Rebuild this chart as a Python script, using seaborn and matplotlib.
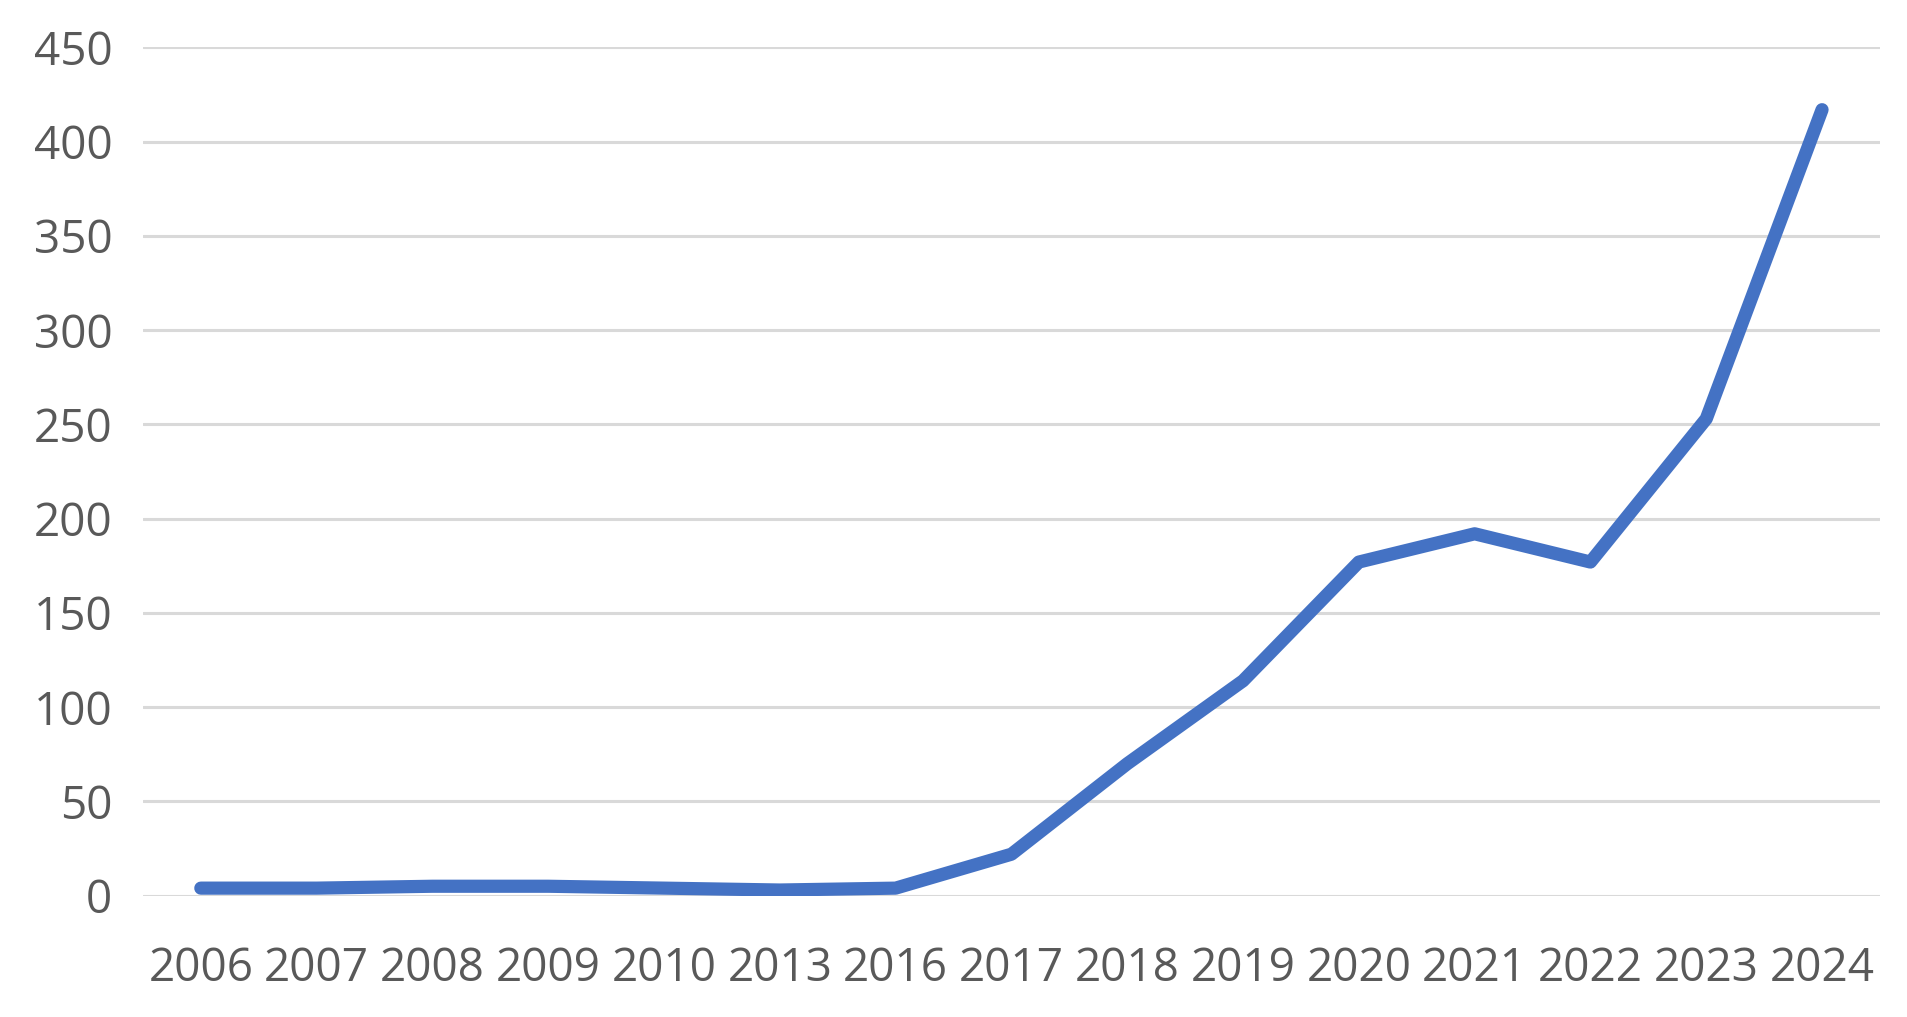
import matplotlib
matplotlib.use('Agg')
import matplotlib.pyplot as plt
import seaborn as sns
import pandas as pd

# data
years = ['2006', '2007', '2008', '2009', '2010', '2013', '2016', '2017',
         '2018', '2019', '2020', '2021', '2022', '2023', '2024']
counts = [4, 4, 5, 5, 4, 3, 4, 22, 70, 114, 177, 192, 177, 253, 417]
y_ticks = [0, 50, 100, 150, 200, 250, 300, 350, 400, 450]

df = pd.DataFrame({'year': years, 'count': counts})

sns.set_style('white')
plt.rcParams['font.family'] = ['Open Sans', 'DejaVu Sans']

fig = plt.figure(figsize=(19.08, 10.17), dpi=100)
ax = fig.add_axes([0.0749, 0.1193, 0.9104, 0.834])

sns.lineplot(data=df, x='year', y='count', ax=ax, color='#4472C4',
             linewidth=9.5, solid_capstyle='round', solid_joinstyle='round',
             sort=False, zorder=3)

ax.set_xlim(-0.5, len(years) - 0.5)
ax.set_ylim(0, 450)
ax.set_yticks(y_ticks)
ax.yaxis.grid(True, color='#D9D9D9', linewidth=2.2)
ax.set_axisbelow(True)
for s in ax.spines.values():
    s.set_visible(False)

ax.set_xlabel('')
ax.set_ylabel('')
ax.tick_params(axis='both', length=0, labelsize=33, labelcolor='#595959')
ax.tick_params(axis='x', pad=36)
ax.tick_params(axis='y', pad=22)

fig.savefig('out.png', dpi=100)
